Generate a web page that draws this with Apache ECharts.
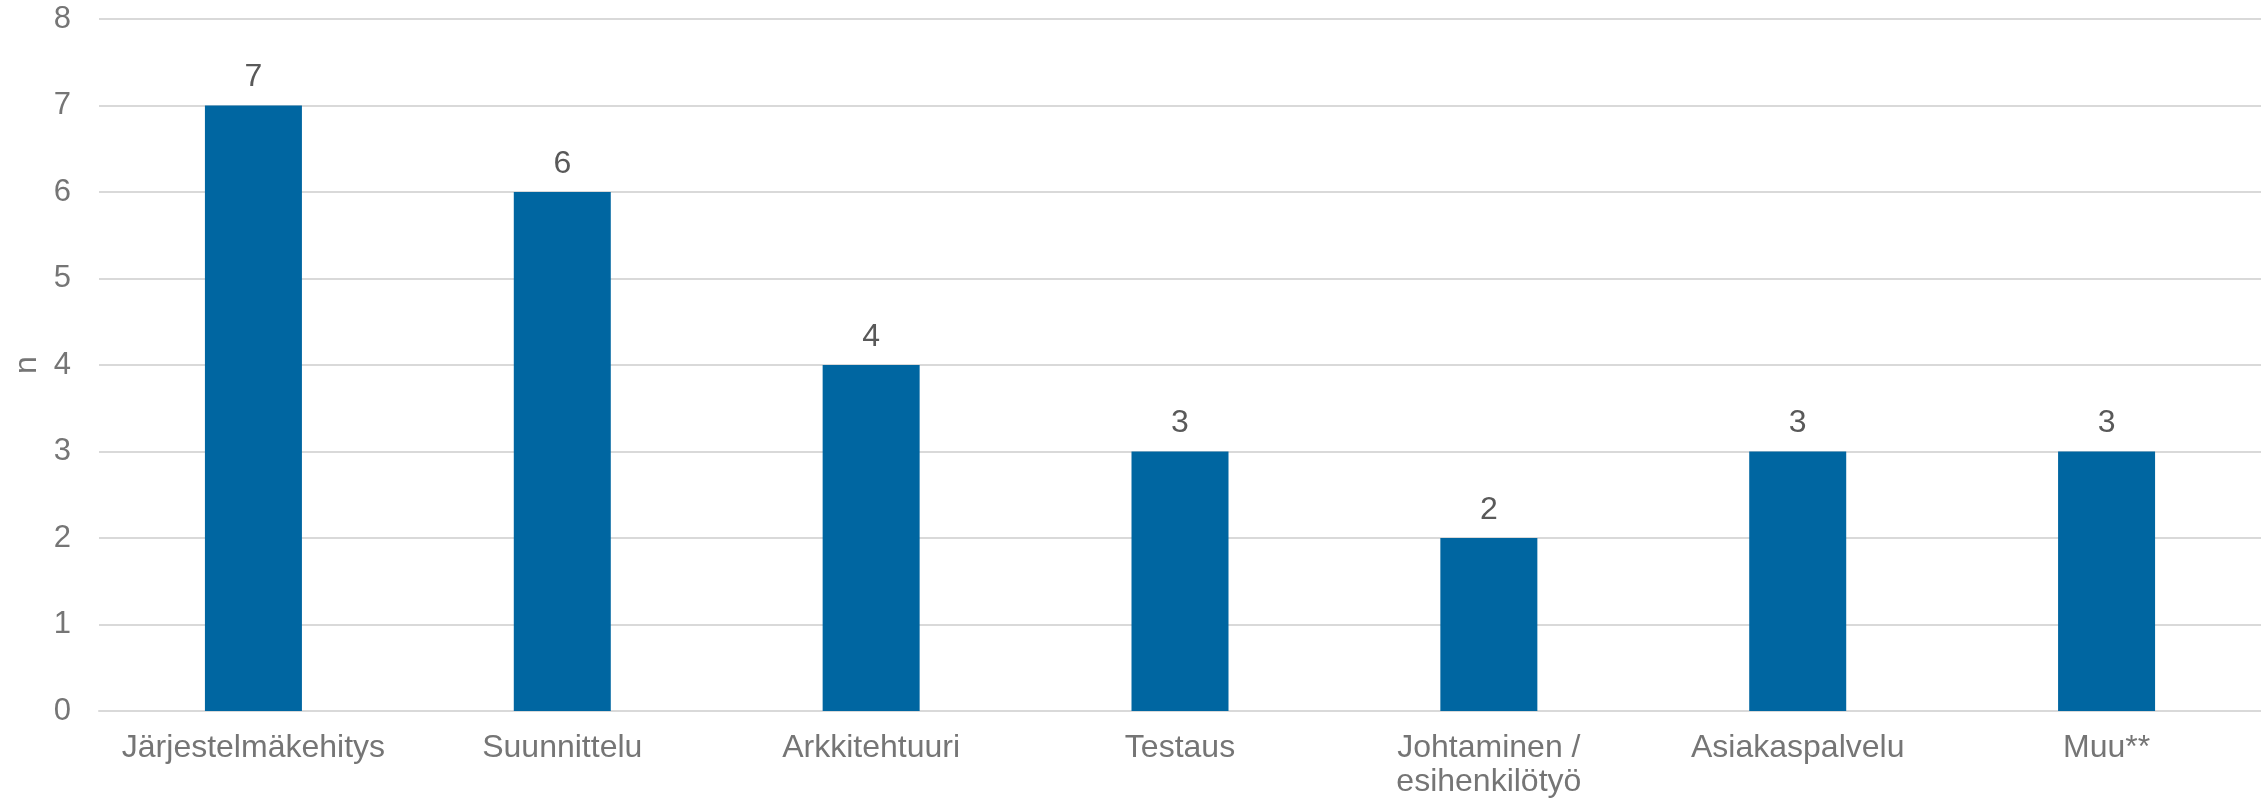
<!DOCTYPE html>
<html>
<head>
<meta charset="utf-8">
<script src="https://cdn.jsdelivr.net/npm/echarts@6/dist/echarts.min.js"></script>
<style>
html,body{margin:0;padding:0;background:#fff;}
#chart{width:2261px;height:803px;}
</style>
</head>
<body>
<div id="chart"></div>
<script>
const categories = ['Järjestelmäkehitys','Suunnittelu','Arkkitehtuuri','Testaus','Johtaminen /\nesihenkilötyö','Asiakaspalvelu','Muu**'];
const values = [7,6,4,3,2,3,3];
const yTicks = {min:0, max:8, interval:1};
const yName = 'n';

const chart = echarts.init(document.getElementById('chart'));
chart.setOption({
  animation:false,
  backgroundColor:'#ffffff',
  textStyle:{fontFamily:'Liberation Sans, Arial, sans-serif'},
  grid:{left:99,right:0,top:19,bottom:92,containLabel:false},
  xAxis:{
    type:'category',
    data:categories,
    axisLine:{show:true,lineStyle:{color:'#d9d9d9',width:2}},
    axisTick:{show:false},
    axisLabel:{color:'#757575',fontSize:32,margin:20,lineHeight:34,interval:0}
  },
  yAxis:{
    type:'value',
    min:yTicks.min,max:yTicks.max,interval:yTicks.interval,
    name:yName,
    nameLocation:'middle',
    nameGap:52,
    nameRotate:90,
    nameTextStyle:{color:'#757575',fontSize:32},
    axisLine:{show:false},
    axisTick:{show:false},
    splitLine:{lineStyle:{color:'#d9d9d9',width:2}},
    axisLabel:{color:'#757575',fontSize:31,margin:28}
  },
  series:[{
    type:'bar',
    data:values,
    barWidth:97,
    itemStyle:{color:'#0066a1'},
    label:{show:true,position:'top',distance:12,color:'#595959',fontSize:32}
  }]
});
</script>
</body>
</html>
